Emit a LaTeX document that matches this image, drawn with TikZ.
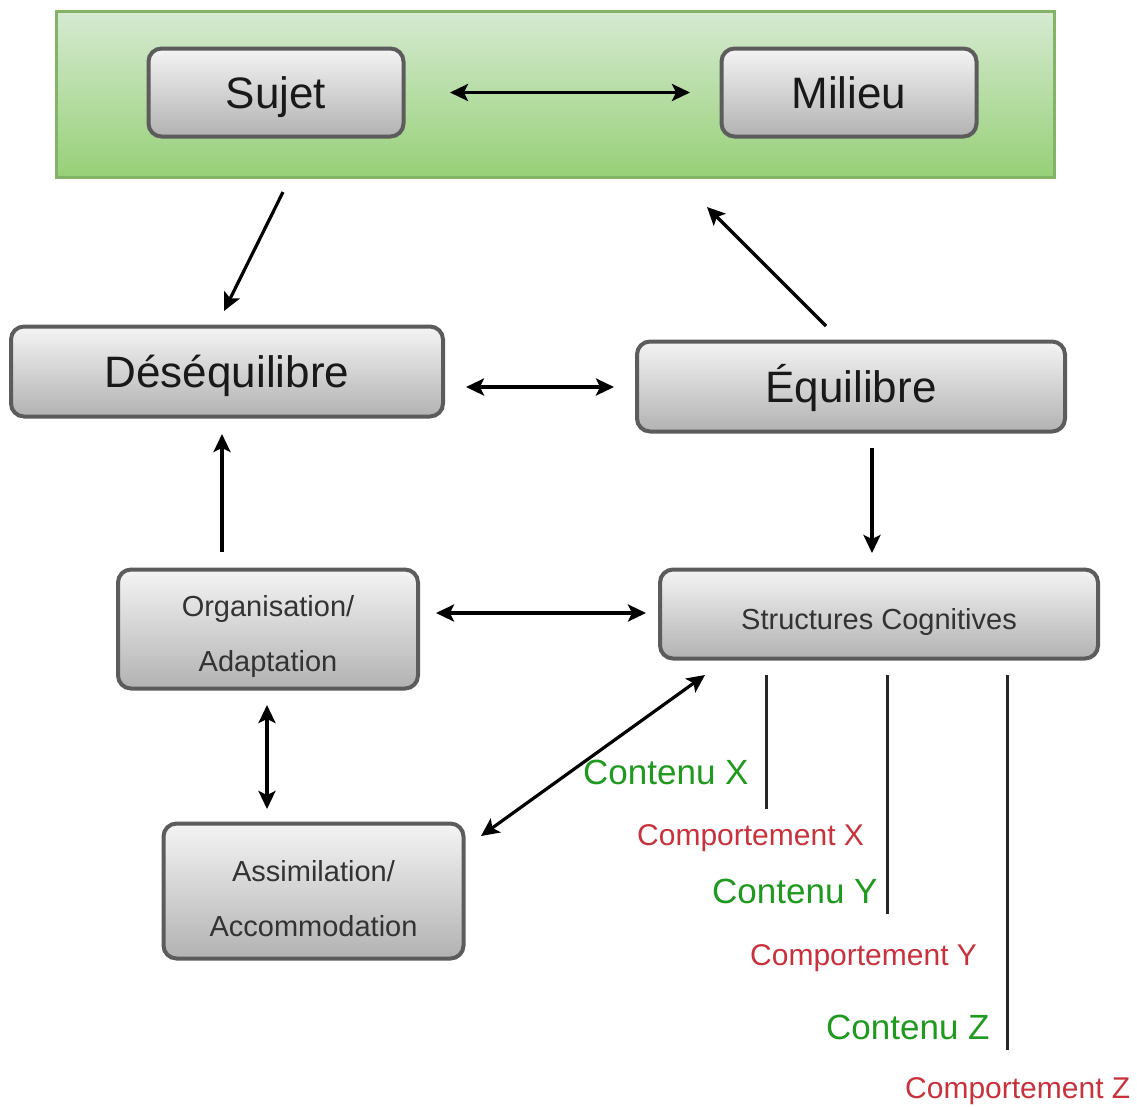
\documentclass[tikz,border=0pt]{standalone}
\usepackage{fontspec}
\setmainfont{Liberation Sans}
\usetikzlibrary{arrows.meta,calc}
\definecolor{boxborder}{HTML}{5C5C5C}
\definecolor{greentop}{HTML}{D6EAD2}
\definecolor{greenbot}{HTML}{97D077}
\definecolor{greenborder}{HTML}{82B366}
\definecolor{labgreen}{HTML}{1F9A1F}
\definecolor{labred}{HTML}{C8323C}
\definecolor{boxtop}{HTML}{F4F4F4}
\definecolor{boxbot}{HTML}{B2B2B2}
\begin{document}
\begin{tikzpicture}[x=1pt,y=-1pt,
  box/.style={draw=boxborder, line width=4pt, rounded corners=13pt,
    top color=boxtop, bottom color=boxbot, inner sep=0pt, align=center, text=black!90},
  bigtxt/.style={font=\fontsize{44}{53}\selectfont, text height=33pt, text depth=2pt},
  smalltxt/.style={font=\fontsize{29}{55}\selectfont, text=black!80},
  onetxt/.style={smalltxt, text height=33pt, text depth=2pt},
  twotxt/.style={smalltxt, text height=91pt},
  conn/.style={line width=3.2pt, draw=black},
  dbl/.style={conn, {Stealth[length=18pt,width=17pt,inset=4pt]}-{Stealth[length=18pt,width=17pt,inset=4pt]}},
  sgl/.style={conn, -{Stealth[length=18pt,width=17pt,inset=4pt]}},
  plain/.style={line width=3pt, draw=black!85},
  glab/.style={anchor=base west, inner sep=0pt, text=labgreen, font=\fontsize{35}{42}\selectfont},
  rlab/.style={anchor=base west, inner sep=0pt, text=labred, font=\fontsize{30}{36}\selectfont}
]
\useasboundingbox (0,0) rectangle (1137,1106);
\fill[white] (0,0) rectangle (1137,1106);

% green frame
\node[draw=greenborder, line width=3pt, top color=greentop, bottom color=greenbot,
      minimum width=998pt, minimum height=166pt, inner sep=0pt] (env) at (555,94) {};

% boxes
\node[box, bigtxt, minimum width=255pt, minimum height=88pt] (sujet) at (276,92.5) {Sujet};
\node[box, bigtxt, minimum width=255pt, minimum height=88pt] (milieu) at (849,92.5) {Milieu};
\node[box, bigtxt, minimum width=432pt, minimum height=90pt] (deseq) at (227,371.5) {Déséquilibre};
\node[box, bigtxt, minimum width=428pt, minimum height=90pt] (equil) at (851,386.5) {Équilibre};
\node[box, twotxt, minimum width=300pt, minimum height=119pt] (org) at (268,629) {Organisation/\\Adaptation};
\node[box, onetxt, minimum width=438pt, minimum height=89pt] (struct) at (879,614) {Structures Cognitives};
\node[box, twotxt, minimum width=300pt, minimum height=135pt] (assim) at (313.5,891) {Assimilation/\\Accommodation};

% connectors
\draw[dbl] ($(sujet.east)+(44.5,0)$) -- ($(milieu.west)+(-29.5,0)$);
\draw[sgl] ($(sujet.south)+(7,53.5)$) -- ($(deseq.north)+(-3,-13.5)$);
\draw[sgl] ($(equil.north)+(-25,-13.5)$) -- ($(env.south)+(152,28.5)$);
\draw[dbl] ($(deseq.east)+(21,15.5)$) -- ($(equil.west)+(-21,0.5)$);
\draw[sgl] ($(equil.south)+(21,14.5)$) -- ($(struct.north)+(-7,-14.5)$);
\draw[sgl] ($(org.north)+(-46,-15.5)$) -- ($(deseq.south)+(-5,15.5)$);
\draw[dbl] ($(org.east)+(16,-16)$) -- ($(struct.west)+(-12,-1)$);
\draw[dbl] ($(org.south)+(-1,14.5)$) -- ($(assim.north)+(-46.5,-12.5)$);
\draw[dbl] ($(assim.north east)+(15.5,14.5)$) -- ($(struct.south west)+(47,14.5)$);

% content lines
\coordinate (endx) at (766,809);
\coordinate (endy) at (887,914);
\coordinate (endz) at (1007,1050);
\draw[plain] ($(struct.south west)+(108,14.5)$) -- (endx);
\draw[plain] ($(struct.south west)+(229,14.5)$) -- (endy);
\draw[plain] ($(struct.south west)+(349,14.5)$) -- (endz);

% labels
\node[glab] (cx) at (583,784) {Contenu X};
\node[rlab] (kx) at (637,845) {Comportement X};
\node[glab] (cy) at (712,903) {Contenu Y};
\node[rlab] (ky) at (750,965) {Comportement Y};
\node[glab] (cz) at (826,1039) {Contenu Z};
\node[rlab] (kz) at (905,1098) {Comportement Z};
\end{tikzpicture}
\end{document}
